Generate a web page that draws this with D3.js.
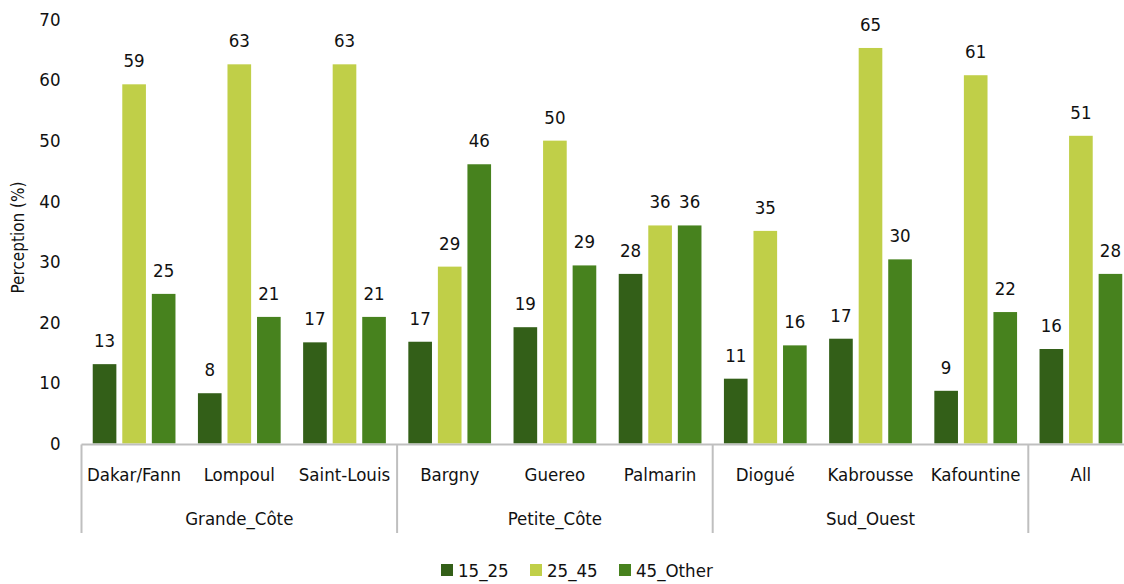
<!DOCTYPE html>
<html>
<head>
<meta charset="utf-8">
<script src="https://cdn.jsdelivr.net/npm/d3@7"></script>
<style>
  body { margin: 0; background: #fff; }
  svg text { font-family: "Liberation Sans Narrow", "DejaVu Sans Condensed", "Roboto", sans-serif; fill: #111; }
</style>
</head>
<body>
<div id="chart"></div>
<script>
(function () {
'use strict';

// data
const sites   = ["Dakar/Fann","Lompoul","Saint-Louis","Bargny","Guereo","Palmarin","Diogué","Kabrousse","Kafountine","All"];
const regions = ["Grande_Côte","Grande_Côte","Grande_Côte","Petite_Côte","Petite_Côte","Petite_Côte","Sud_Ouest","Sud_Ouest","Sud_Ouest",""];
const series  = ["15_25","25_45","45_Other"];
const v15_25   = [13.1, 8.3, 16.7, 16.8, 19.2, 28.0, 10.7, 17.3, 8.7, 15.6];
const v25_45   = [59.3, 62.6, 62.6, 29.2, 50.0, 36.0, 35.1, 65.3, 60.8, 50.8];
const v45_other= [24.7, 20.9, 20.9, 46.1, 29.4, 36.0, 16.2, 30.4, 21.7, 28.0];
const yTicks  = [0,10,20,30,40,50,60,70];

const COLORS = ["#335f18", "#c0cf48", "#47821e"];
const values = [v15_25, v25_45, v45_other];

const width = 1124, height = 584;
const svg = d3.select("#chart").append("svg")
  .attr("width", width).attr("height", height);

const left = 81.5, bottom = 443.5, top = 19.5;
const FS = 18.5;
const x = d3.scaleBand().domain(sites).range([left, left + 105.2 * sites.length]).padding(0);
const xs = d3.scaleBand().domain(series).range([0, x.bandwidth()]).paddingInner(0.2).paddingOuter(0.38);
const y = d3.scaleLinear().domain([0, 70]).range([bottom, top]);

// y tick labels (no axis line)
const yAxisG = svg.append("g").attr("transform", `translate(${left},0)`)
  .call(d3.axisLeft(y).tickValues(yTicks).tickSize(0).tickPadding(21));
yAxisG.select(".domain").remove();
yAxisG.selectAll("text")
  .style("font-family", null)
  .attr("font-size", FS).attr("fill", "#111");

svg.append("text")
  .attr("transform", `translate(24,${(top + bottom) / 2 + 6}) rotate(-90)`)
  .attr("text-anchor", "middle")
  .attr("font-size", 17)
  .text("Perception (%)");

// bars
const groups = svg.selectAll("g.site").data(sites).join("g")
  .attr("class", "site")
  .attr("transform", d => `translate(${x(d)},0)`);

series.forEach((s, si) => {
  groups.append("rect")
    .attr("x", xs(s))
    .attr("width", xs.bandwidth())
    .attr("y", (d, i) => y(values[si][i]))
    .attr("height", (d, i) => bottom - y(values[si][i]))
    .attr("fill", COLORS[si]);
  groups.append("text")
    .attr("x", xs(s) + xs.bandwidth() / 2)
    .attr("y", (d, i) => y(values[si][i]) - 17)
    .attr("text-anchor", "middle")
    .attr("font-size", FS)
    .text((d, i) => Math.round(values[si][i]));
});

// category axis
const axisColor = "#bfbfbf";
svg.append("line")
  .attr("x1", left).attr("x2", width)
  .attr("y1", bottom + 1).attr("y2", bottom + 1)
  .attr("stroke", axisColor).attr("stroke-width", 2);

svg.selectAll("text.site-label").data(sites).join("text")
  .attr("class", "site-label")
  .attr("x", d => x(d) + x.bandwidth() / 2)
  .attr("y", 481)
  .attr("text-anchor", "middle")
  .attr("font-size", FS)
  .text(d => d);

// region spans
const spans = [];
regions.forEach((r, i) => {
  const last = spans[spans.length - 1];
  if (last && last.name === r) last.end = sites[i];
  else spans.push({ name: r, start: sites[i], end: sites[i] });
});

const dividers = [x(sites[0])].concat(spans.slice(1).map(s => x(s.start)));
svg.selectAll("line.divider").data(dividers).join("line")
  .attr("class", "divider")
  .attr("x1", d => d).attr("x2", d => d)
  .attr("y1", bottom + 1).attr("y2", 533)
  .attr("stroke", axisColor).attr("stroke-width", 2);

svg.selectAll("text.region-label").data(spans.filter(s => s.name)).join("text")
  .attr("class", "region-label")
  .attr("x", d => (x(d.start) + x(d.end) + x.bandwidth()) / 2)
  .attr("y", 525)
  .attr("text-anchor", "middle")
  .attr("font-size", FS)
  .text(d => d.name);

// legend
const legendX = [441, 530, 619];
const legend = svg.selectAll("g.legend").data(series).join("g")
  .attr("class", "legend")
  .attr("transform", (d, i) => `translate(${legendX[i]},564)`);
legend.append("rect")
  .attr("width", 12).attr("height", 12)
  .attr("fill", (d, i) => COLORS[i]);
legend.append("text")
  .attr("x", 17).attr("y", 13)
  .attr("font-size", FS)
  .text(d => d);
})();
</script>
</body>
</html>
